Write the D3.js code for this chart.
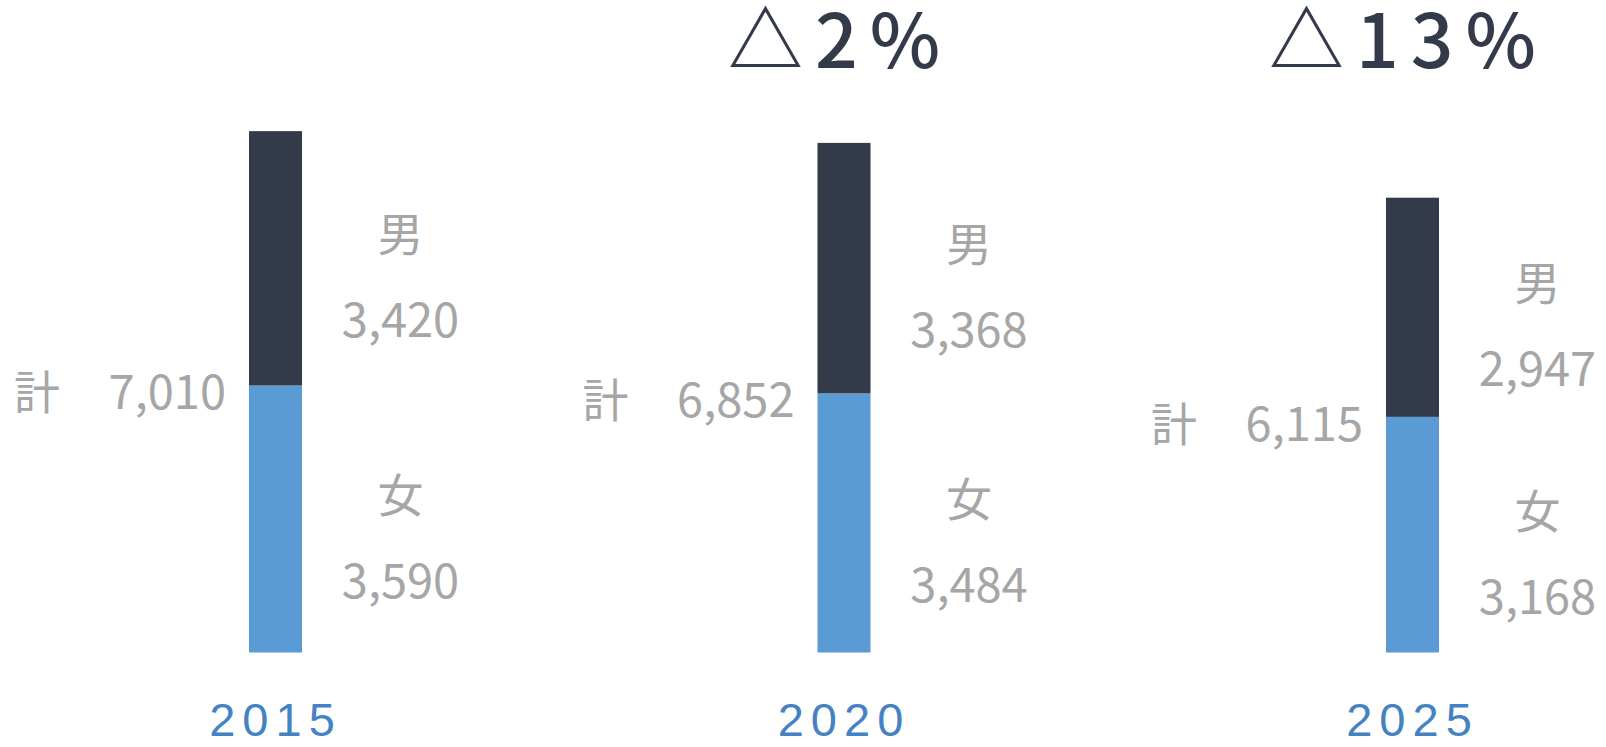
<!DOCTYPE html>
<html>
<head>
<meta charset="utf-8">
<script src="https://cdn.jsdelivr.net/npm/d3@7"></script>
<style>
  html, body { margin: 0; padding: 0; background: #fff; }
  svg { display: block; }
</style>
</head>
<body>
<svg id="chart"></svg>
<script>
const years = ["2015", "2020", "2025"];
const male = [3420, 3368, 2947];
const female = [3590, 3484, 3168];
const total = [7010, 6852, 6115];
const changeLabels = ["", "△2%", "△13%"];

const width = 1606, height = 747;
const barWidth = 53;
const darkColor = "#333a4a";
const blueColor = "#5b9bd5";
const labelColor = "#a6a6a6";
const cjk = "'Noto Sans CJK JP', 'Noto Sans', sans-serif";

const svg = d3.select("#chart")
  .attr("width", width)
  .attr("height", height);

const x = d3.scalePoint().domain(years).range([275.5, 1412.5]);
const y = d3.scaleLinear().domain([0, 8000]).range([652.5, 57.5]);

const data = years.map((yr, i) => ({
  year: yr,
  male: male[i],
  female: female[i],
  total: total[i],
  change: changeLabels[i]
}));

const fmt = d3.format(",");

const g = svg.selectAll(".year")
  .data(data)
  .join("g")
  .attr("class", "year");

// female segment (bottom)
g.append("rect")
  .attr("x", d => x(d.year) - barWidth / 2)
  .attr("width", barWidth)
  .attr("y", d => y(d.female))
  .attr("height", d => y(0) - y(d.female))
  .attr("fill", blueColor);

// male segment (top)
g.append("rect")
  .attr("x", d => x(d.year) - barWidth / 2)
  .attr("width", barWidth)
  .attr("y", d => y(d.female + d.male))
  .attr("height", d => y(d.female) - y(d.female + d.male))
  .attr("fill", darkColor);

// total label on the left
g.append("text")
  .attr("x", d => x(d.year) - barWidth / 2 - 23)
  .attr("y", d => y(d.female) + 24)
  .attr("text-anchor", "end")
  .style("font-family", cjk)
  .attr("font-size", 47)
  .attr("fill", labelColor)
  .text(d => fmt(d.total));

g.append("text")
  .attr("x", d => x(d.year) - barWidth / 2 - 189)
  .attr("y", d => y(d.female) + 24)
  .attr("text-anchor", "end")
  .style("font-family", cjk)
  .attr("font-size", 46)
  .attr("fill", labelColor)
  .text("計");

// segment labels on the right
const segs = [
  { name: "男", lo: d => d.female, hi: d => d.female + d.male, val: d => d.male },
  { name: "女", lo: d => 0, hi: d => d.female, val: d => d.female }
];

segs.forEach(s => {
  const mid = d => (y(s.lo(d)) + y(s.hi(d))) / 2;
  g.append("text")
    .attr("x", d => x(d.year) + 125)
    .attr("y", d => mid(d) - 7)
    .attr("text-anchor", "middle")
    .style("font-family", cjk)
    .attr("font-size", 46)
    .attr("fill", labelColor)
    .text(s.name);
  g.append("text")
    .attr("x", d => x(d.year) + 125)
    .attr("y", d => mid(d) + 79)
    .attr("text-anchor", "middle")
    .style("font-family", cjk)
    .attr("font-size", 47)
    .attr("fill", labelColor)
    .text(d => fmt(s.val(d)));
});

// year labels
g.append("text")
  .attr("x", d => x(d.year))
  .attr("y", 736)
  .attr("text-anchor", "middle")
  .style("font-family", "'Liberation Sans', Arial, sans-serif")
  .attr("font-size", 47)
  .attr("letter-spacing", 7)
  .attr("fill", "#4582c4")
  .text(d => d.year);

// change labels on top
g.append("text")
  .attr("x", d => x(d.year) - 4)
  .attr("y", 68)
  .attr("text-anchor", "middle")
  .style("font-family", cjk)
  .attr("font-size", 75)
  .attr("font-weight", 500)
  .attr("letter-spacing", 12)
  .attr("fill", darkColor)
  .text(d => d.change);
</script>
</body>
</html>
